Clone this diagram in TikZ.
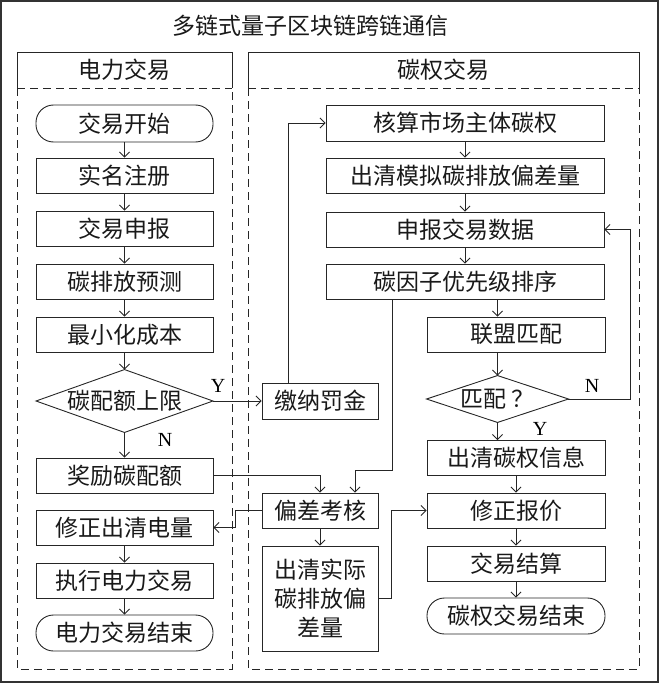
\documentclass[tikz,border=0pt]{standalone}
\usepackage{fontspec}
\newfontfamily\cjk{Noto Sans CJK SC}
\newfontfamily\latinfont{Liberation Serif}
\usetikzlibrary{arrows.meta}
\begin{document}
\begin{tikzpicture}[x=1pt,y=-1pt,
  line width=0.9pt, draw=black!85,
  txt/.style={font=\cjk\fontsize{23}{29}\selectfont, text=black!90},
  box/.style={txt, draw=black!85, rectangle, inner sep=0pt, minimum height=35pt, align=center},
  lbox/.style={box, minimum width=177pt},
  mbox/.style={box, minimum width=116pt},
  wbox/.style={box, minimum width=278pt},
  nbox/.style={box, minimum width=178pt},
  term/.style={box, rounded corners=17.5pt},
  ghost/.style={txt, rectangle, inner sep=0pt},
  lab/.style={font=\latinfont\fontsize{20}{22}\selectfont, inner sep=0pt},
  arr/.style={-{Straight Barb[length=5pt,width=10pt]}},
  dsh/.style={dash pattern=on 8pt off 5pt}
]
\useasboundingbox (0,0) rectangle (660,685);
% outer frame
\draw[line width=1.3pt, draw=black!80] (1,1) rectangle (658,682);
\node[txt] (title) at (310,26) {多链式量子区块链跨链通信};

% lanes
\draw (17,88) -- (17,52) -- (232,52) -- (232,88);
\draw[dsh] (17,88) -- (232,88);
\draw[dsh] (17,88) -- (17,669) -- (232,669) -- (232,88);
\node[txt] (lane1) at (124.5,70) {电力交易};
\draw (248,88) -- (248,52) -- (639,52) -- (639,88);
\draw[dsh] (248,88) -- (639,88);
\draw[dsh] (248,88) -- (248,669) -- (639,669) -- (639,88);
\node[txt] (lane2) at (443.5,70) {碳权交易};

% left column
\node[lbox, term, minimum height=37pt] (ks) at (124.5,123.5) {交易开始};
\node[lbox] (sm) at (124.5,175.5) {实名注册};
\node[lbox] (jy) at (124.5,228.5) {交易申报};
\node[lbox] (yc) at (124.5,281.5) {碳排放预测};
\node[lbox] (cb) at (124.5,334.5) {最小化成本};
\node[ghost, minimum width=176pt, minimum height=62pt] (d1) at (124.5,401) {碳配额上限};
\draw (d1.west) -- (d1.north) -- (d1.east) -- (d1.south) -- cycle;
\node[lbox] (jl) at (124.5,475.5) {奖励碳配额};
\node[lbox] (xz) at (124.5,527.5) {修正出清电量};
\node[lbox] (zx) at (124.5,580.5) {执行电力交易};
\node[lbox, term, minimum height=36pt] (dj) at (124.5,633) {电力交易结束};

% middle column
\node[mbox, minimum height=36pt] (mj) at (320,401) {缴纳罚金};
\node[mbox] (pc) at (320,510.5) {偏差考核};
\node[mbox, minimum height=105pt] (cs) at (320,598.5) {出清实际\\碳排放偏\\差量};

% right column
\node[wbox, minimum height=36pt] (hs) at (465,123) {核算市场主体碳权};
\node[wbox] (mn) at (465,175.5) {出清模拟碳排放偏差量};
\node[wbox] (sb) at (465,229.5) {申报交易数据};
\node[wbox] (tz) at (465,281.5) {碳因子优先级排序};
\node[nbox] (lm) at (516,334.5) {联盟匹配};
\node[ghost, minimum width=141pt, minimum height=46pt] (dp) at (497.5,399) {匹配\hspace{6pt}？\hspace{4pt}};
\draw (dp.west) -- (dp.north) -- (dp.east) -- (dp.south) -- cycle;
\node[nbox] (qx) at (516,458) {出清碳权信息};
\node[nbox] (zb) at (516,510.5) {修正报价};
\node[nbox] (js) at (516,563.5) {交易结算};
\node[nbox, term, minimum height=36pt] (tj) at (516,616) {碳权交易结束};

% helper coordinates
\coordinate (c1) at (392,470);
\coordinate (c2) at (355,470);
\coordinate (c3) at (235,510.5);
\coordinate (c4) at (391,598.5);
\coordinate (c5) at (630,399);
\coordinate (c6) at (288,401);

% left chain
\draw[arr] (ks) -- (sm);
\draw[arr] (sm) -- (jy);
\draw[arr] (jy) -- (yc);
\draw[arr] (yc) -- (cb);
\draw[arr] (cb) -- (d1.north);
\draw[arr] (d1.south) -- (jl);
\draw[arr] (xz) -- (zx);
\draw[arr] (zx) -- (dj);
\node[lab] (yl) at (218,386) {Y};
\node[lab] (nl) at (165,440) {N};
\draw[arr] (d1.east) -- (mj.west);

% middle
\draw[arr] (mj.north -| c6) |- (hs.west);
\draw[arr] (jl.east) -| (pc.north);
\draw[arr] (tz.south -| c1) -- (c1) -- (c2) -- (c2 |- pc.north);
\draw[arr] (pc.west) -- (c3) |- (xz.east);
\draw[arr] (pc) -- (cs);
\draw[arr] (cs.east) -- (c4) |- (zb.west);

% right chain
\draw[arr] (hs) -- (mn);
\draw[arr] (mn) -- (sb);
\draw[arr] (sb) -- (tz);
\draw[arr] (tz.south -| dp.north) -- (lm.north -| dp.north);
\draw[arr] (lm.south -| dp.north) -- (dp.north);
\draw[arr] (dp.south) -- (qx.north -| dp.south);
\draw[arr] (qx) -- (zb);
\draw[arr] (zb) -- (js);
\draw[arr] (js) -- (tj);
\draw[arr] (dp.east) -- (c5) |- (sb.east);
\node[lab] (nr) at (592,386) {N};
\node[lab] (yr) at (540,429) {Y};
\end{tikzpicture}
\end{document}
